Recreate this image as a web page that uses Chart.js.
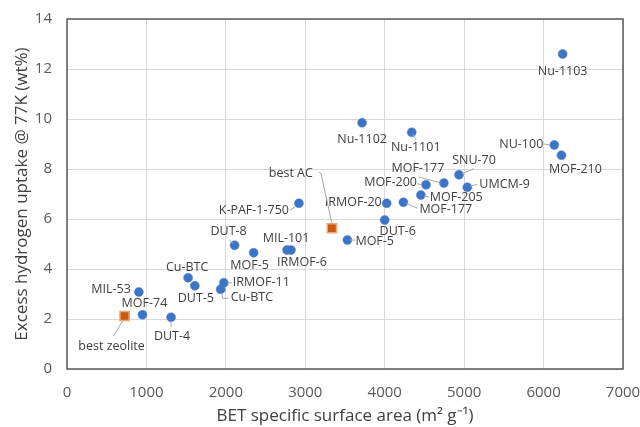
<!DOCTYPE html>
<html>
<head>
<meta charset="utf-8">
<script src="https://cdn.jsdelivr.net/npm/chart.js@4.4.1/dist/chart.umd.min.js"></script>
<style>
  html, body { margin: 0; padding: 0; background: #ffffff; }
  #wrap { width: 640px; height: 427px; position: relative; }
</style>
</head>
<body>
<div id="wrap"><canvas id="chart"></canvas></div>
<script>
// Porous frameworks: BET surface area (m2/g) vs excess H2 uptake at 77 K (wt%)
const frameworkNames = [
  'Nu-1103', 'Nu-1102', 'Nu-1101', 'NU-100', 'MOF-210', 'SNU-70', 'MOF-177', 'MOF-200',
  'UMCM-9', 'MOF-205', 'IRMOF-20', 'MOF-177', 'DUT-6', 'MOF-5', 'K-PAF-1-750', 'DUT-8',
  'MOF-5', 'MIL-101', 'IRMOF-6', 'Cu-BTC', 'DUT-5', 'IRMOF-11', 'Cu-BTC', 'MIL-53',
  'MOF-74', 'DUT-4'
];
const frameworkArea = [
  6240, 3715, 4340, 6135, 6225, 4935, 4745, 4520,
  5040, 4455, 4025, 4235, 4000, 3530, 2920, 2110,
  2350, 2770, 2820, 1525, 1610, 1975, 1935, 905,
  950, 1310
];
const frameworkUptake = [
  12.6, 9.85, 9.47, 8.96, 8.55, 7.77, 7.44, 7.37,
  7.27, 6.96, 6.63, 6.67, 5.96, 5.16, 6.63, 4.95,
  4.65, 4.76, 4.76, 3.65, 3.33, 3.45, 3.19, 3.08,
  2.17, 2.07
];

// Best conventional adsorbents for comparison
const benchmarkNames = ['best zeolite', 'best AC'];
const benchmarkArea = [725, 3335];
const benchmarkUptake = [2.12, 5.63];

const xTicks = [0, 1000, 2000, 3000, 4000, 5000, 6000, 7000];
const yTicks = [0, 2, 4, 6, 8, 10, 12, 14];

// Label placement (pixel offsets from the marker) and leader lines
const frameworkLabelPos = [
  { dx: 0, dy: 17, align: 'center' },
  { dx: 0, dy: 17, align: 'center' },
  { dx: 4, dy: 15, align: 'center', leader: [[1, 2], [4, 7]] },
  { dx: -11, dy: -1, align: 'right', leader: [[-10, -1], [-4, 0]] },
  { dx: 14, dy: 14, align: 'center' },
  { dx: 15, dy: -14, align: 'center', leader: [[3, -1], [15, -6]] },
  { dx: -26, dy: -15, align: 'center', leader: [[-25, -6], [-3, 0]] },
  { dx: -9, dy: -2, align: 'right', leader: [[-9, -1], [-4, 0]] },
  { dx: 12, dy: -3, align: 'left', leader: [[3, -1], [10, -3]] },
  { dx: 9, dy: 2, align: 'left', leader: [[3, 1], [8, 2]] },
  { dx: -5, dy: -1, align: 'right' },
  { dx: 16, dy: 7, align: 'left', leader: [[3, 1], [14, 6]] },
  { dx: 13, dy: 11, align: 'center' },
  { dx: 8, dy: 1, align: 'left', leader: [[3, 0], [8, 0]] },
  { dx: -10, dy: 7, align: 'right', leader: [[-3, 3], [-9, 7]] },
  { dx: -6, dy: -14, align: 'center', leader: [[-1, -1], [-5, -5]] },
  { dx: -4, dy: 13, align: 'center' },
  { dx: -1, dy: -12, align: 'center' },
  { dx: 11, dy: 12, align: 'center' },
  { dx: -1, dy: -10, align: 'center' },
  { dx: 1, dy: 13, align: 'center' },
  { dx: 9, dy: 0, align: 'left', leader: [[3, 0], [8, 0]] },
  { dx: 10, dy: 8, align: 'left', leader: [[1, 4], [2, 9], [8, 9]] },
  { dx: -8, dy: -3, align: 'right' },
  { dx: 2, dy: -11, align: 'center' },
  { dx: 1, dy: 19, align: 'center', leader: [[0, 4], [0, 10]] }
];
const benchmarkLabelPos = [
  { dx: -13, dy: 30, align: 'center', leader: [[-2, 5], [-11, 20]] },
  { dx: -19, dy: -55, align: 'right', leader: [[-13, -56], [-11, -55], [0, -5]] }
];

const toPoints = (xs, ys) => xs.map((x, i) => ({ x: x, y: ys[i] }));

const plotFrame = {
  id: 'plotFrame',
  beforeDatasetsDraw(chart) {
    const { ctx, chartArea: a } = chart;
    ctx.save();
    ctx.strokeStyle = '#595959';
    ctx.lineWidth = 1.5;
    ctx.strokeRect(a.left, a.top, a.right - a.left, a.bottom - a.top);
    ctx.restore();
  }
};

const pointLabels = {
  id: 'pointLabels',
  afterDatasetsDraw(chart) {
    const { ctx } = chart;
    const groups = [
      { names: frameworkNames, pos: frameworkLabelPos },
      { names: benchmarkNames, pos: benchmarkLabelPos }
    ];
    ctx.save();
    ctx.font = '12.5px "Open Sans"';
    ctx.textBaseline = 'middle';
    groups.forEach((g, di) => {
      const meta = chart.getDatasetMeta(di);
      meta.data.forEach((el, i) => {
        const p = g.pos[i];
        if (p.leader) {
          ctx.beginPath();
          ctx.strokeStyle = '#a6a6a6';
          ctx.lineWidth = 1;
          p.leader.forEach((q, k) => {
            if (k === 0) ctx.moveTo(el.x + q[0], el.y + q[1]);
            else ctx.lineTo(el.x + q[0], el.y + q[1]);
          });
          ctx.stroke();
        }
        ctx.fillStyle = '#404040';
        ctx.textAlign = p.align;
        ctx.fillText(g.names[i], el.x + p.dx, el.y + p.dy);
      });
    });
    ctx.restore();
  }
};

new Chart(document.getElementById('chart'), {
  type: 'scatter',
  data: {
    datasets: [
      {
        label: 'Frameworks',
        data: toPoints(frameworkArea, frameworkUptake),
        pointStyle: 'circle',
        pointRadius: 4.5,
        pointHoverRadius: 4.5,
        backgroundColor: '#3d74c6',
        borderColor: '#4a80cf',
        borderWidth: 0.5
      },
      {
        label: 'Benchmarks',
        data: toPoints(benchmarkArea, benchmarkUptake),
        pointStyle: 'rect',
        pointRadius: 6.5,
        pointHoverRadius: 6.5,
        backgroundColor: '#c55a11',
        borderColor: '#f4a46e',
        borderWidth: 1.5
      }
    ]
  },
  options: {
    responsive: true,
    maintainAspectRatio: false,
    animation: false,
    events: [],
    layout: { padding: { top: 19, right: 17, left: 0, bottom: 0 } },
    plugins: {
      legend: { display: false },
      tooltip: { enabled: false }
    },
    scales: {
      x: {
        type: 'linear',
        min: xTicks[0],
        max: xTicks[xTicks.length - 1],
        afterBuildTicks(scale) { scale.ticks = xTicks.map(v => ({ value: v })); },
        afterFit(scale) {
          scale.height = 58;
          scale.paddingLeft = 0;
          scale.paddingRight = 0;
        },
        ticks: {
          color: '#595959',
          font: { family: '"Open Sans"', size: 15 },
          padding: 15,
          maxRotation: 0,
          callback: v => String(v)
        },
        grid: { color: '#d9d9d9', lineWidth: 1, drawTicks: false },
        border: { display: false },
        title: {
          display: true,
          text: 'BET specific surface area (m\u00b2 g\u207b\u00b9)',
          color: '#404040',
          font: { family: '"Open Sans"', size: 17 },
          padding: { top: 0, bottom: 1 }
        }
      },
      y: {
        type: 'linear',
        min: yTicks[0],
        max: yTicks[yTicks.length - 1],
        afterBuildTicks(scale) { scale.ticks = yTicks.map(v => ({ value: v })); },
        afterFit(scale) {
          scale.width = 67;
          scale.paddingTop = 0;
          scale.paddingBottom = 0;
        },
        ticks: {
          color: '#595959',
          font: { family: '"Open Sans"', size: 15 },
          padding: 15,
          callback: v => String(v)
        },
        grid: { color: '#d9d9d9', lineWidth: 1, drawTicks: false },
        border: { display: false },
        title: {
          display: true,
          text: 'Excess hydrogen uptake @ 77K (wt%)',
          color: '#404040',
          font: { family: '"Open Sans"', size: 17 },
          padding: { top: 12, bottom: 0 }
        }
      }
    }
  },
  plugins: [plotFrame, pointLabels]
});
</script>
</body>
</html>
